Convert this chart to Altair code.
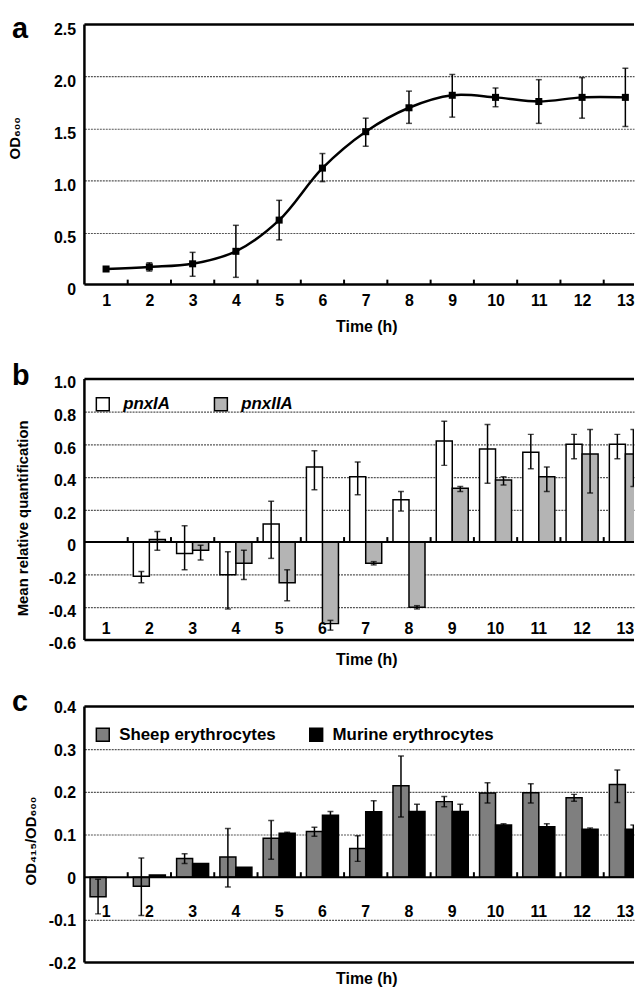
import json
import altair as alt
import pandas as pd

# ---------------- data ----------------
times = list(range(1, 14))

# panel a: growth curve
od600 = [0.15, 0.17, 0.20, 0.32, 0.62, 1.12, 1.47, 1.70, 1.82, 1.80, 1.76, 1.80, 1.80]
od600_low = [None, 0.13, 0.08, 0.07, 0.43, 0.99, 1.33, 1.55, 1.61, 1.71, 1.55, 1.60, 1.52]
od600_high = [None, 0.21, 0.31, 0.57, 0.81, 1.26, 1.60, 1.86, 2.02, 1.89, 1.97, 1.99, 2.08]

# panel b: relative quantification
series_b = ["pnxIA", "pnxIIA"]
pnxIA = [None, -0.21, -0.07, -0.20, 0.11, 0.46, 0.40, 0.26, 0.62, 0.57, 0.55, 0.60, 0.60]
pnxIA_low = [None, -0.25, -0.17, -0.41, -0.10, 0.32, 0.29, 0.19, 0.47, 0.36, 0.45, 0.51, 0.51]
pnxIA_high = [None, -0.18, 0.10, -0.06, 0.25, 0.56, 0.49, 0.31, 0.74, 0.72, 0.66, 0.66, 0.66]
pnxIIA = [None, 0.015, -0.05, -0.13, -0.25, -0.50, -0.13, -0.40, 0.33, 0.38, 0.40, 0.54, 0.54]
pnxIIA_low = [None, -0.05, -0.11, -0.23, -0.36, -0.54, -0.14, -0.41, 0.31, 0.35, 0.31, 0.30, 0.34]
pnxIIA_high = [None, 0.065, -0.02, -0.05, -0.17, -0.48, -0.12, -0.39, 0.34, 0.40, 0.46, 0.69, 0.69]

# panel c: haemolysis
series_c = ["Sheep erythrocytes", "Murine erythrocytes"]
sheep = [-0.046, -0.021, 0.044, 0.047, 0.091, 0.107, 0.067, 0.214, 0.177, 0.197, 0.198, 0.186, 0.217]
sheep_low = [-0.086, -0.090, 0.032, -0.023, 0.042, 0.096, 0.037, 0.141, 0.165, 0.174, 0.174, 0.178, 0.175]
sheep_high = [-0.005, 0.045, 0.055, 0.114, 0.133, 0.117, 0.097, 0.284, 0.189, 0.221, 0.219, 0.194, 0.251]
murine = [None, 0.005, 0.032, 0.023, 0.103, 0.145, 0.153, 0.154, 0.154, 0.122, 0.118, 0.112, 0.112]
murine_low = [None, None, None, None, 0.101, 0.139, 0.131, 0.139, 0.139, 0.121, 0.114, 0.110, 0.104]
murine_high = [None, None, None, None, 0.105, 0.154, 0.179, 0.171, 0.171, 0.125, 0.125, 0.115, 0.122]

yticks_a = [0, 0.5, 1.0, 1.5, 2.0, 2.5]
yticks_b = [1.0, 0.8, 0.6, 0.4, 0.2, 0, -0.2, -0.4, -0.6]
yticks_c = [0.4, 0.3, 0.2, 0.1, 0, -0.1, -0.2]

# ---------------- style ----------------
FONT = "Liberation Sans, Arial, Helvetica, sans-serif"
BAND = 43.6                 # pixels per hour
X_MAX = 13.2                # the figure is cropped on the right, as in the original
W = round(BAND * (X_MAX - 0.5), 1)
BAR_W = 0.37
GRID = "#555555"
FRAME_W = 2.5
TICK_PX = 5
LETTER_SIZE = 29
boundaries = [t + 0.5 for t in times[:-1]]

xscale = alt.Scale(domain=[0.5, X_MAX], nice=False, zero=False)
LABEL_EXPR = "datum.value == 0 ? '0' : replace(format(datum.value, '.1f'), '\u2212', '-')"


def grid_hide(vals):
    test = " || ".join(f"datum.value == {v}" for v in vals)
    return {"condition": {"test": test, "value": 0}, "value": 1}


def y_axis(values, hide, title, title_x, title_y, label_offset):
    return alt.Axis(values=values, tickCount=50, labelExpr=LABEL_EXPR, ticks=False,
                    domain=False, grid=True, gridColor=GRID, gridDash=[2, 1], gridWidth=1.2,
                    gridOpacity=grid_hide(hide), labelFontSize=16, labelFontWeight="bold",
                    labelPadding=9, labelOffset=label_offset, labelColor="black",
                    labelOverlap=False,
                    title=title, titleFontSize=15, titleFontWeight="bold", titleColor="black",
                    titleX=title_x, titleY=title_y, titleAngle=270)


def letter(ch, dy):
    return alt.Chart(pd.DataFrame({"s": [ch]})).mark_text(
        font=FONT, fontSize=LETTER_SIZE, fontWeight="bold", align="left",
        baseline="alphabetic", color="black").encode(
        text="s:N", x=alt.value(-73), y=alt.value(dy))


def frame_and_ticks(X, ydomain, height):
    """Left/top/bottom frame lines and the small category ticks on the zero line."""
    one = pd.DataFrame({"z": [0]})
    left = alt.Chart(one).mark_rule(color="black", strokeWidth=FRAME_W).encode(
        x=alt.datum(0.5, scale=xscale))
    top = alt.Chart(one).mark_rule(color="black", strokeWidth=FRAME_W).encode(
        y=alt.datum(ydomain[1]))
    bottom = alt.Chart(one).mark_rule(color="black", strokeWidth=FRAME_W).encode(
        y=alt.datum(ydomain[0]))
    tick_len = TICK_PX * (ydomain[1] - ydomain[0]) / height
    ticks = alt.Chart(pd.DataFrame({"b": boundaries})).mark_rule(
        color="black", strokeWidth=2).encode(
        x=X("b:Q"), y=alt.datum(0), y2=alt.datum(tick_len))
    return [left, top, bottom, ticks]


# ---------------- panel a ----------------
H_A = 262
dfa = pd.DataFrame({"t": times, "od": od600, "lo": od600_low, "hi": od600_high})
ya_dom = [0, 2.5]
ya_scale = alt.Scale(domain=ya_dom, nice=False, zero=False)
ya_axis = y_axis(yticks_a, [0, 2.5], "OD\u2086\u2080\u2080", -62, 114, 5)
xa_axis = alt.Axis(values=times, format="d", ticks=False, domain=False, grid=False,
                   labelPadding=8, labelFlush=False, labelOverlap=False, labelFontSize=16,
                   labelFontWeight="bold", labelColor="black", title="Time (h)",
                   titlePadding=10, titleFontSize=16, titleFontWeight="bold",
                   titleColor="black", titleX=284)


def XA(f):
    return alt.X(f, scale=xscale, axis=xa_axis)


def YA(f):
    return alt.Y(f, scale=ya_scale, axis=ya_axis)


base_a = alt.Chart(dfa)
line_a = base_a.mark_line(color="black", strokeWidth=2.5, interpolate="catmull-rom").encode(
    x=XA("t:Q"), y=YA("od:Q"))
err_a = base_a.transform_filter("isValid(datum.lo)").mark_rule(color="black", strokeWidth=1.5).encode(
    x=XA("t:Q"), y=YA("lo:Q"), y2="hi:Q")
caplo_a = base_a.transform_filter("isValid(datum.lo)").mark_tick(
    orient="horizontal", size=6, thickness=1.5, color="black").encode(x=XA("t:Q"), y=YA("lo:Q"))
caphi_a = base_a.transform_filter("isValid(datum.hi)").mark_tick(
    orient="horizontal", size=6, thickness=1.5, color="black").encode(x=XA("t:Q"), y=YA("hi:Q"))
pts_a = base_a.mark_square(size=50, color="black", opacity=1).encode(x=XA("t:Q"), y=YA("od:Q"))

panel_a = alt.layer(line_a, err_a, caplo_a, caphi_a, pts_a,
                    *frame_and_ticks(XA, ya_dom, H_A), letter("a", 13.5)).properties(
    width=W, height=H_A)


# ---------------- grouped bar panels ----------------
def bar_panel(ch, names, vals, lows, highs, colors, ydomain, yticks, hide, ytitle, title_x,
              title_y, label_offset, height, lab_y, lab_dy, legend_kw, letter_dy, title_pad):
    rows = []
    for name, v, lo, hi in zip(names, vals, lows, highs):
        for i, t in enumerate(times):
            rows.append({"t": t, "series": name, "value": v[i], "lo": lo[i], "hi": hi[i]})
    df = pd.DataFrame(rows)
    ysc = alt.Scale(domain=ydomain, nice=False, zero=False)
    yax = y_axis(yticks, hide, ytitle, title_x, title_y, label_offset)
    xax = alt.Axis(labels=False, ticks=False, domain=False, grid=False, title="Time (h)",
                   titlePadding=title_pad, titleFontSize=16, titleFontWeight="bold",
                   titleColor="black", titleX=284)

    def X(f):
        return alt.X(f, scale=xscale, axis=xax)

    def Y(f):
        return alt.Y(f, scale=ysc, axis=yax)

    names_js = json.dumps(names)
    base = alt.Chart(df).transform_calculate(
        k=f"indexof({names_js}, datum.series)").transform_calculate(
        x0=f"datum.t - {BAR_W} + {BAR_W} * datum.k",
        x1=f"datum.t + {BAR_W} * datum.k",
        xc=f"datum.t - {BAR_W / 2} + {BAR_W} * datum.k")

    bars = base.transform_filter("isValid(datum.value)").mark_bar(
        stroke="black", strokeWidth=1.5, opacity=1, clip=True).encode(
        x=X("x0:Q"), x2="x1:Q", y=Y("value:Q"), y2=alt.datum(0),
        fill=alt.Fill("series:N", scale=alt.Scale(domain=names, range=colors),
                      legend=alt.Legend(orient="none", direction="horizontal", title=None,
                                        symbolType="square", symbolStrokeColor="black",
                                        symbolStrokeWidth=1.5, symbolOpacity=1, padding=0,
                                        labelFontSize=17, labelFontWeight="bold",
                                        labelColor="black", labelFont=FONT, labelLimit=400,
                                        **legend_kw)))
    err = base.transform_filter("isValid(datum.lo)").mark_rule(
        color="black", strokeWidth=1.5, clip=True).encode(
        x=X("xc:Q"), y=Y("lo:Q"), y2="hi:Q")
    caplo = base.transform_filter("isValid(datum.lo)").mark_tick(
        orient="horizontal", size=6, thickness=1.5, color="black", clip=True).encode(
        x=X("xc:Q"), y=Y("lo:Q"))
    caphi = base.transform_filter("isValid(datum.hi)").mark_tick(
        orient="horizontal", size=6, thickness=1.5, color="black", clip=True).encode(
        x=X("xc:Q"), y=Y("hi:Q"))
    zero = alt.Chart(pd.DataFrame({"z": [0]})).mark_rule(color="black", strokeWidth=2).encode(
        y=Y("z:Q"))
    labels = alt.Chart(pd.DataFrame({"t": times})).mark_text(
        font=FONT, fontSize=16, fontWeight="bold", baseline="alphabetic", dy=lab_dy,
        color="black").encode(x=X("t:Q"), y=alt.datum(lab_y), text=alt.Text("t:Q", format="d"))
    return alt.layer(bars, err, caplo, caphi, zero, *frame_and_ticks(X, ydomain, height), labels,
                     letter(ch, letter_dy)).properties(width=W, height=height)


panel_b = bar_panel("b", series_b, [pnxIA, pnxIIA], [pnxIA_low, pnxIIA_low],
                    [pnxIA_high, pnxIIA_high], ["white", "#b4b4b4"], [-0.6, 1.0], yticks_b,
                    [1.0, 0, -0.6], "Mean relative quantification", -54, 140, 4, 263,
                    -0.6, -6,
                    dict(legendX=10, legendY=17, symbolSize=169, labelOffset=12,
                         columnPadding=41, labelFontStyle="italic"), 6, 12)

panel_c = bar_panel("c", series_c, [sheep, murine], [sheep_low, murine_low],
                    [sheep_high, murine_high], ["#7f7f7f", "black"], [-0.2, 0.4], yticks_c,
                    [0.4, 0, -0.2], "OD\u2084\u2081\u2085/OD\u2086\u2080\u2080", -46, 135, 1, 258,
                    -0.1, -3,
                    dict(legendX=10, legendY=20, symbolSize=169, labelOffset=8,
                         columnPadding=31), 5, 8)

top = alt.vconcat(panel_a, panel_b, spacing=28).resolve_scale(fill="independent")
chart = alt.vconcat(top, panel_c, spacing=21).resolve_scale(fill="independent").properties(
    padding={"left": 0, "top": 3, "right": 0, "bottom": 0}
).configure(font=FONT).configure_view(stroke=None)

chart.save("out.html", embed_options={"renderer": "svg", "actions": False})
